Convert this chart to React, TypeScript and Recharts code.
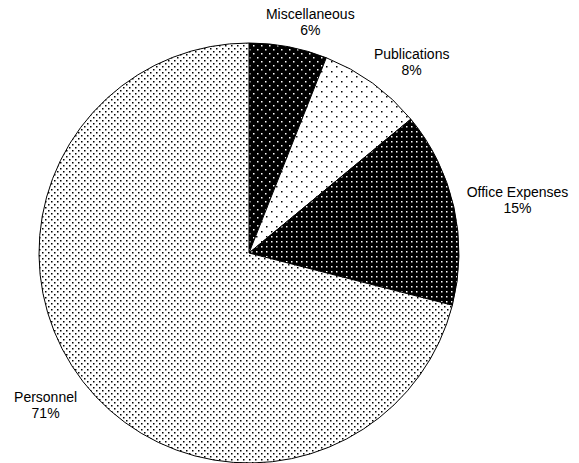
import { PieChart, Pie, Cell } from "recharts";

const categories = ["Miscellaneous", "Publications", "Office Expenses", "Personnel"];
const shares = [6, 8, 15, 71];
const fills = ["url(#pMisc)", "url(#pPub)", "url(#pOffice)", "url(#pPers)"];

const data = categories.map((name, i) => ({ name, value: shares[i] }));

const RAD = Math.PI / 180;
const FONT = 14;

// pushes the label box outward from the anchor point, Excel-style
function renderLabel(props: any) {
  const { cx, cy, midAngle, outerRadius, name, percent } = props;
  const r = outerRadius + 12;
  const c = Math.cos(midAngle * RAD);
  const s = Math.sin(midAngle * RAD);
  const ax = cx + r * c;
  const ay = cy - r * s;
  const w = name.length * FONT * 0.5;
  const h = 32;
  const lx = ax + Math.sign(c) * Math.sqrt(Math.abs(c)) * (w / 2);
  const ly = ay - Math.sign(s) * Math.sqrt(Math.abs(s)) * (h / 2);
  return (
    <text
      x={lx}
      y={ly}
      textAnchor="middle"
      fontFamily="'Liberation Sans', Arial, sans-serif"
      fontSize={FONT}
      fill="#000"
    >
      <tspan x={lx} y={ly}>
        {name}
      </tspan>
      <tspan x={lx} y={ly + 16}>
        {`${Math.round(percent * 100)}%`}
      </tspan>
    </text>
  );
}

export default function App() {
  return (
    <div style={{ position: "absolute", left: 0, top: 0, width: 579, height: 463, background: "#fff" }}>
      <svg width={0} height={0} style={{ position: "absolute" }}>
        <defs>
          <pattern id="pMisc" patternUnits="userSpaceOnUse" width={8} height={8}>
            <rect width={8} height={8} fill="#000" />
            <rect x={1} y={1} width={1.5} height={1.5} fill="#fff" />
            <rect x={5} y={5} width={1.5} height={1.5} fill="#fff" />
          </pattern>
          <pattern id="pPub" patternUnits="userSpaceOnUse" width={10} height={10}>
            <rect width={10} height={10} fill="#fff" />
            <rect x={1} y={1} width={1.5} height={1.5} fill="#000" />
            <rect x={6} y={6} width={1.5} height={1.5} fill="#000" />
          </pattern>
          <pattern id="pOffice" patternUnits="userSpaceOnUse" width={5} height={5}>
            <rect width={5} height={5} fill="#000" />
            <rect x={1} y={1} width={1.5} height={1.5} fill="#fff" />
          </pattern>
          <pattern id="pPers" patternUnits="userSpaceOnUse" width={6} height={6}>
            <rect width={6} height={6} fill="#fff" />
            <rect x={0} y={0} width={1.5} height={1.5} fill="#000" />
            <rect x={3} y={3} width={1.5} height={1.5} fill="#000" />
          </pattern>
        </defs>
      </svg>
      <PieChart width={579} height={463} margin={{ top: 0, right: 0, bottom: 0, left: 0 }}>
        <Pie
          data={data}
          dataKey="value"
          nameKey="name"
          cx={249}
          cy={253}
          outerRadius={210}
          startAngle={90}
          endAngle={-270}
          stroke="#000"
          strokeWidth={1}
          label={renderLabel}
          labelLine={false}
          isAnimationActive={false}
        >
          {data.map((d, i) => (
            <Cell key={d.name} fill={fills[i]} />
          ))}
        </Pie>
      </PieChart>
    </div>
  );
}
